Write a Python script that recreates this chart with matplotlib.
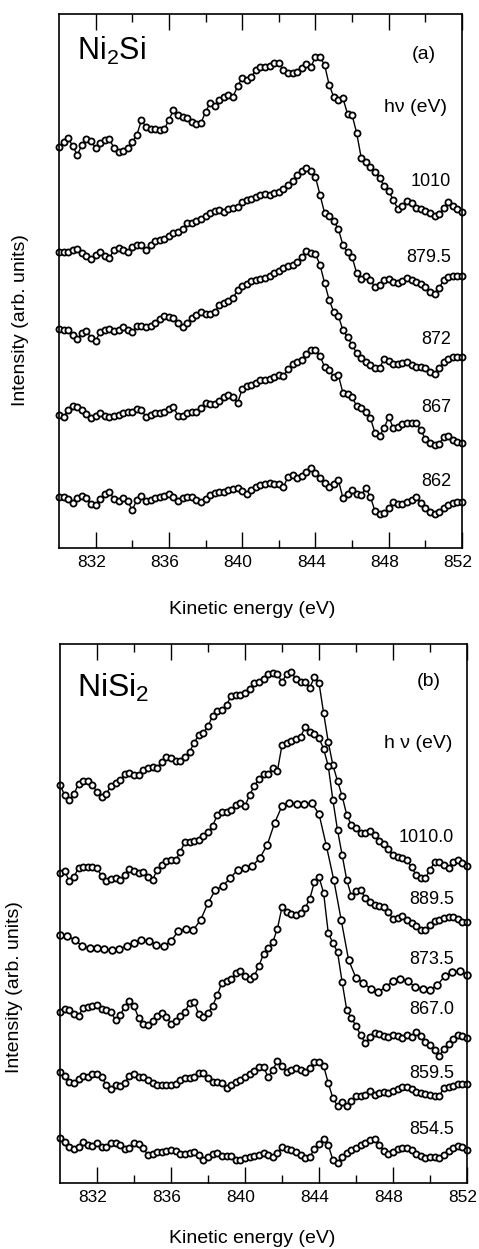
import numpy as np
import matplotlib
matplotlib.use("Agg")
import matplotlib.pyplot as plt
from matplotlib.ticker import FixedLocator
from matplotlib.transforms import ScaledTranslation

# ------------------------------------------------
# DATA  (intensity in arb. units)
# ------------------------------------------------

E_START = 830.0
E_END   = 852.0

major_ticks = [832, 836, 840, 844, 848, 852]
minor_ticks = [834, 838, 842, 846, 850]

# (a) Ni2Si, 0.25 eV steps
a_labels = ["1010", "879.5", "872", "867", "862"]

a_1010 = [401, 406, 410, 402, 393, 403, 409, 407, 400, 405,
          408, 409, 400, 396, 397, 400, 406, 413, 428, 421,
          419, 419, 418, 419, 428, 438, 433, 431, 430, 426,
          424, 425, 436, 445, 442, 448, 451, 453, 451, 462,
          470, 468, 471, 478, 481, 481, 482, 485, 485, 478,
          475, 475, 476, 480, 484, 481, 491, 491, 483, 463,
          451, 448, 450, 434, 433, 415, 390, 386, 381, 376,
          370, 362, 357, 348, 339, 342, 347, 345, 340, 339,
          337, 335, 332, 334, 340, 346, 342, 339, 336]

a_879 = [296, 296, 296, 298, 299, 295, 292, 289, 293, 296,
         292, 290, 298, 300, 298, 296, 301, 303, 303, 298,
         303, 307, 308, 309, 312, 315, 316, 319, 325, 325,
         327, 329, 332, 335, 337, 338, 336, 339, 340, 341,
         346, 348, 349, 351, 353, 354, 353, 355, 356, 359,
         363, 367, 373, 377, 380, 377, 371, 353, 335, 332,
         327, 319, 303, 296, 291, 275, 269, 272, 268, 261,
         263, 268, 269, 266, 265, 267, 270, 268, 266, 264,
         261, 256, 254, 260, 268, 271, 272, 272, 272]

a_872 = [219, 218, 218, 213, 209, 215, 217, 210, 207, 216,
         218, 219, 217, 218, 221, 218, 216, 222, 222, 221,
         222, 225, 229, 232, 231, 230, 225, 221, 225, 230,
         233, 236, 234, 234, 236, 243, 245, 247, 250, 258,
         262, 264, 267, 268, 269, 270, 272, 275, 277, 280,
         282, 283, 286, 291, 297, 295, 294, 283, 265, 248,
         236, 232, 218, 211, 203, 195, 190, 186, 183, 180,
         180, 189, 187, 184, 184, 185, 186, 183, 181, 181,
         180, 176, 174, 180, 186, 189, 191, 191, 191]

a_867 = [133, 131, 138, 142, 141, 138, 134, 130, 132, 135,
         132, 131, 132, 133, 135, 136, 136, 139, 138, 131,
         133, 135, 135, 136, 139, 141, 132, 132, 135, 136,
         136, 140, 145, 144, 144, 147, 151, 153, 151, 145,
         159, 162, 163, 165, 168, 168, 169, 171, 173, 172,
         179, 184, 186, 188, 194, 198, 198, 192, 181, 178,
         171, 173, 155, 154, 151, 142, 140, 136, 130, 115,
         112, 120, 131, 120, 121, 124, 125, 125, 125, 118,
         109, 105, 103, 104, 111, 112, 108, 106, 105]

a_862 = [51, 51, 49, 45, 50, 52, 50, 44, 43, 49,
         54, 56, 49, 47, 50, 47, 38, 48, 52, 47,
         48, 50, 51, 52, 54, 51, 47, 50, 51, 51,
         48, 46, 49, 53, 55, 56, 56, 58, 59, 60,
         57, 54, 58, 61, 63, 64, 65, 64, 64, 61,
         71, 73, 70, 72, 76, 80, 75, 70, 65, 61,
         64, 68, 50, 54, 58, 54, 53, 60, 51, 37,
         34, 35, 40, 46, 44, 44, 46, 48, 51, 45,
         40, 36, 34, 36, 40, 43, 45, 46, 46]

# (b) NiSi2, 0.25 eV steps (873.5 eV curve: 0.4 eV steps)
b_labels = ["1010.0", "889.5", "873.5", "867.0", "859.5", "854.5"]

b_1010 = [398, 388, 383, 389, 399, 402, 402, 398, 391, 386,
          389, 397, 400, 403, 409, 410, 408, 408, 413, 415,
          416, 415, 421, 426, 425, 422, 422, 426, 431, 440,
          448, 450, 457, 467, 472, 473, 478, 487, 488, 488,
          490, 494, 500, 501, 504, 509, 510, 509, 501, 509,
          511, 504, 501, 501, 495, 506, 500, 470, 441, 418,
          402, 387, 368, 358, 355, 350, 350, 352, 348, 342,
          339, 334, 328, 326, 325, 323, 316, 308, 305, 305,
          313, 321, 321, 318, 315, 321, 323, 320, 317]

b_889 = [310, 312, 302, 306, 315, 316, 316, 316, 315, 307,
         302, 304, 305, 303, 308, 314, 312, 310, 311, 306,
         303, 313, 318, 322, 323, 323, 331, 341, 341, 342,
         343, 347, 351, 357, 368, 371, 371, 373, 378, 380,
         377, 388, 397, 404, 409, 409, 415, 412, 438, 440,
         442, 444, 446, 456, 451, 449, 445, 434, 417, 383,
         353, 328, 303, 287, 292, 293, 285, 281, 278, 277,
         276, 271, 264, 265, 267, 263, 260, 257, 253, 253,
         258, 262, 263, 265, 266, 266, 264, 261, 261]

b_873 = [248, 247, 243, 237, 235, 235, 234, 233, 234, 237,
         240, 243, 242, 238, 237, 242, 252, 254, 253, 263,
         280, 293, 297, 305, 313, 315, 317, 325, 338, 360,
         377, 380, 379, 379, 380, 369, 337, 303, 263, 223,
         205, 200, 194, 191, 196, 202, 204, 202, 196, 194,
         193, 198, 207, 211, 212, 208]

b_867 = [171, 174, 173, 169, 167, 175, 176, 177, 178, 174,
         173, 171, 163, 168, 176, 182, 177, 165, 159, 158,
         162, 167, 170, 166, 159, 162, 167, 171, 180, 181,
         169, 166, 170, 177, 188, 200, 202, 204, 210, 212,
         207, 204, 207, 217, 229, 235, 241, 254, 276, 271,
         269, 268, 270, 275, 284, 301, 306, 290, 250, 240,
         231, 201, 173, 165, 157, 148, 140, 146, 150, 149,
         147, 146, 148, 147, 145, 148, 146, 151, 147, 141,
         138, 133, 127, 134, 139, 144, 148, 147, 145]

b_859 = [111, 107, 101, 100, 104, 107, 106, 109, 109, 106,
         98, 94, 98, 97, 100, 107, 109, 106, 106, 103,
         100, 98, 98, 98, 98, 99, 103, 105, 105, 106,
         110, 110, 105, 101, 101, 100, 95, 98, 101, 103,
         106, 109, 112, 116, 116, 106, 113, 122, 117, 111,
         113, 115, 113, 111, 115, 121, 121, 117, 100, 85,
         77, 81, 77, 82, 87, 87, 88, 92, 88, 90,
         91, 90, 92, 94, 96, 96, 94, 91, 90, 89,
         88, 87, 87, 95, 96, 97, 99, 99, 99]

b_854 = [45, 41, 36, 34, 36, 41, 38, 37, 40, 36,
         36, 40, 40, 38, 34, 35, 40, 39, 35, 28,
         29, 31, 31, 32, 33, 32, 29, 29, 30, 31,
         28, 23, 26, 29, 30, 27, 27, 27, 23, 23,
         25, 26, 27, 28, 30, 28, 26, 30, 36, 34,
         33, 31, 28, 25, 26, 34, 39, 44, 38, 23,
         20, 26, 30, 33, 35, 38, 40, 43, 44, 38,
         32, 29, 31, 34, 35, 35, 33, 29, 27, 25,
         26, 26, 25, 28, 32, 35, 37, 36, 33]

a_curves = [a_1010, a_879, a_872, a_867, a_862]
b_curves = [b_1010, b_889, b_873, b_867, b_859, b_854]

# label heights (same arb. units as the curves)
a_label_y = [366, 291, 208, 140, 66]
b_label_y = [346, 283, 223, 173, 110, 53]


def energy_grid(values):
    return np.linspace(E_START, E_END, len(values))


# ------------------------------------------------
# STYLE
# ------------------------------------------------

plt.rcParams["font.family"] = ["Liberation Sans", "DejaVu Sans"]
plt.rcParams["mathtext.fontset"] = "custom"
plt.rcParams["mathtext.rm"] = "Liberation Sans"

W, H = 479, 1249
fig = plt.figure(figsize=(W / 100, H / 100), dpi=100)


def style_axis(ax, ymax):
    ax.set_xlim(E_START, E_END)
    ax.set_ylim(0, ymax)
    ax.xaxis.set_major_locator(FixedLocator(major_ticks))
    ax.xaxis.set_minor_locator(FixedLocator(minor_ticks))
    ax.set_yticks([])
    ax.tick_params(axis="x", which="both", direction="in", top=True,
                   bottom=True, width=1.0, labelsize=12.5, pad=5)
    ax.tick_params(axis="x", which="major", length=11.5)
    ax.tick_params(axis="x", which="minor", length=6)
    for sp in ax.spines.values():
        sp.set_linewidth(1.2)
    ax.set_xlabel("Kinetic energy (eV)", fontsize=14)
    # labels in the original sit a few pixels left of their ticks
    shift = ScaledTranslation(-4 / 100, 0, fig.dpi_scale_trans)
    for lbl in ax.get_xticklabels():
        lbl.set_transform(lbl.get_transform() + shift)


def draw_curve(ax, values, ms=4.4):
    ax.plot(energy_grid(values), values, color="black", lw=1.0,
            marker="o", ms=ms, mfc="white", mec="black", mew=1.3,
            clip_on=False)


# ------------------------------------------------
# PANEL (a)  Ni2Si
# ------------------------------------------------

ax_a = fig.add_axes([59 / W, 1 - 548 / H, 403 / W, 534 / H])
style_axis(ax_a, 534)
for vals in a_curves:
    draw_curve(ax_a, vals)
for lab, yv in zip(a_labels, a_label_y):
    ax_a.text(851.4, yv, lab, ha="right", va="center", fontsize=13)
ax_a.text(831.0, 497, r"Ni$_\mathrm{2}$Si", fontsize=22, ha="left", va="center")
ax_a.text(0.905, 0.925, "(a)", transform=ax_a.transAxes, fontsize=14,
          ha="center", va="center")
ax_a.text(0.885, 0.825, "hν (eV)", transform=ax_a.transAxes, fontsize=14,
          ha="center", va="center")
ax_a.xaxis.set_label_coords(0.479, -0.1)
fig.text(21 / W, 1 - 320 / H, "Intensity (arb. units)", rotation=90,
         fontsize=14, ha="center", va="center")

# ------------------------------------------------
# PANEL (b)  NiSi2
# ------------------------------------------------

ax_b = fig.add_axes([60 / W, 1 - 1183 / H, 407 / W, 539 / H])
style_axis(ax_b, 539)
for vals in b_curves:
    draw_curve(ax_b, vals, ms=4.8 if vals is b_873 else 4.4)
for lab, yv in zip(b_labels, b_label_y):
    ax_b.text(851.3, yv, lab, ha="right", va="center", fontsize=13)
ax_b.text(830.9, 495, r"NiSi$_\mathrm{2}$", fontsize=23, ha="left", va="center")
ax_b.text(0.906, 0.93, "(b)", transform=ax_b.transAxes, fontsize=14,
          ha="center", va="center")
ax_b.text(0.88, 0.815, "h ν (eV)", transform=ax_b.transAxes, fontsize=14,
          ha="center", va="center")
ax_b.xaxis.set_label_coords(0.472, -0.088)
fig.text(15 / W, 1 - 987 / H, "Intensity (arb. units)", rotation=90,
         fontsize=14, ha="center", va="center")

fig.savefig("out.png", dpi=100)
print("Saved: out.png")
